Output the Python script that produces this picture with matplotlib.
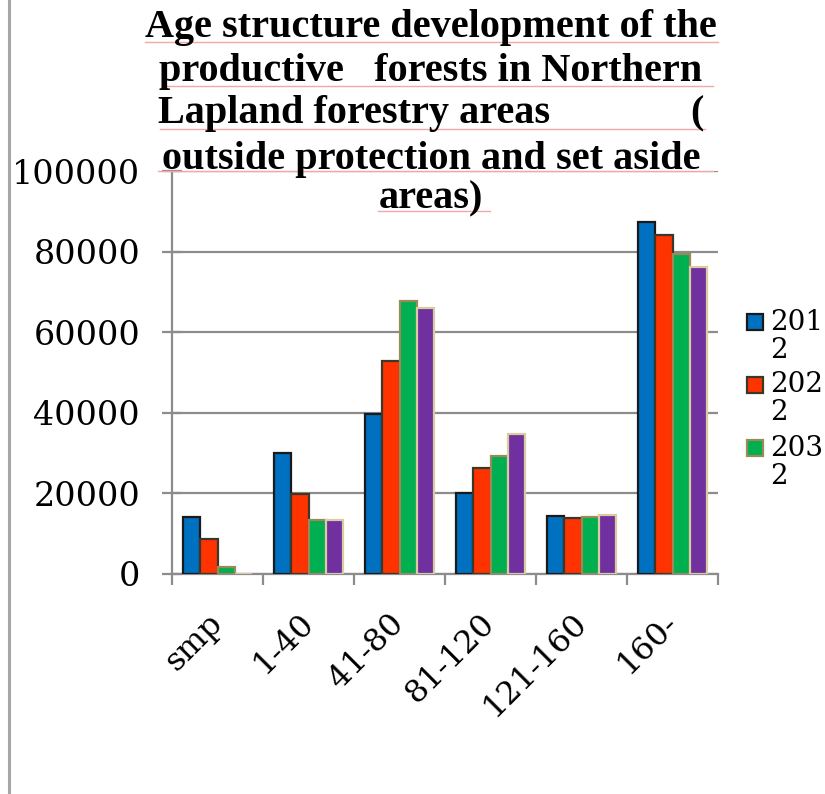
import matplotlib
matplotlib.use("Agg")
import matplotlib.pyplot as plt
import numpy as np
from matplotlib.patches import Rectangle
from matplotlib.lines import Line2D

categories = ["smp", "1-40", "41-80", "81-120", "121-160", "160-"]
series_names = ["2012", "2022", "2032", "2042"]
v2012 = [14200, 30000, 39600, 20200, 14400, 87300]
v2022 = [8700, 19900, 52800, 26400, 13800, 84200]
v2032 = [1800, 13300, 67800, 29300, 14200, 79400]
v2042 = [100, 13500, 66000, 34800, 14600, 76300]
values = [v2012, v2022, v2032, v2042]
yticks = [0, 20000, 40000, 60000, 80000, 100000]
title_lines = ["Age structure development of the",
               "productive   forests in Northern",
               "Lapland forestry areas",
               "outside protection and set aside",
               "areas)"]

colors = ["#0070C0", "#FF3300", "#00B050", "#7030A0"]
edges = ["#1a1a1a", "#3a3828", "#9a8a5a", "#d8cca0"]

W, H = 825, 794
fig = plt.figure(figsize=(W / 100, H / 100), dpi=100)
ax = fig.add_axes([172 / W, 1 - 574 / H, (718 - 172) / W, (574 - 171) / H])

serif = "DejaVu Serif"
x = np.arange(len(categories))
bw = 0.1875
for i, (vals, c, e) in enumerate(zip(values, colors, edges)):
    ax.bar(x + (i - 1.5) * bw, vals, width=bw, color=c, edgecolor=e, linewidth=1.6, zorder=3)

ax.set_xlim(-0.5, len(categories) - 0.5)
ax.set_ylim(0, 100000)
ax.set_yticks(yticks)
ax.set_yticklabels([str(t) for t in yticks], fontsize=24, family=serif)
ax.yaxis.grid(True, color="#8c8c8c", linewidth=1.6, zorder=0)
ax.set_axisbelow(True)
ax.set_xticks(np.arange(-0.5, len(categories), 1.0))
ax.set_xticklabels([])
ax.set_xticks(x, minor=True)
ax.set_xticklabels(categories, minor=True, rotation=45, ha="right", va="center",
                   rotation_mode="anchor", fontsize=23, family=serif)
ax.tick_params(axis="x", which="minor", length=0, pad=32)
ax.tick_params(axis="x", which="major", length=8, width=1.6, color="#8c8c8c", direction="out")
ax.tick_params(axis="y", length=14, width=1.6, color="#8c8c8c", direction="inout", pad=16)
for s in ["top", "right"]:
    ax.spines[s].set_visible(False)
for s in ["left", "bottom"]:
    ax.spines[s].set_color("#8c8c8c")
    ax.spines[s].set_linewidth(1.6)

# title
tfont = dict(family="Liberation Serif", fontweight="bold", fontsize=29)
ys = [27, 71, 114, 159, 199]
xc = 431
for k, (line, yy) in enumerate(zip(title_lines, ys)):
    if k == 2:
        fig.text(158 / W, 1 - yy / H, line, ha="left", va="center", **tfont)
        fig.text(697 / W, 1 - yy / H, "(", ha="center", va="center", **tfont)
    else:
        fig.text(xc / W, 1 - yy / H, line, ha="center", va="center", **tfont)

# spell-check style underlines
ul = [(145, 718, 42), (163, 713, 86), (160, 705, 129), (158, 713, 171), (378, 490, 211)]
for x0, x1, yy in ul:
    fig.add_artist(Line2D([x0 / W, x1 / W], [1 - yy / H, 1 - yy / H], color="#f2a8a8", linewidth=1.0))

# left border line
fig.add_artist(Line2D([9 / W, 9 / W], [0, 1], color="#a6a6a6", linewidth=2.2))

# legend (first three series visible, labels wrapped)
for i in range(3):
    name = series_names[i]
    ytop = 322 + 63 * i
    fig.add_artist(Rectangle((747 / W, 1 - (ytop + 8) / H), 16 / W, 16 / H,
                             transform=fig.transFigure, facecolor=colors[i],
                             edgecolor=edges[i], linewidth=1.6))
    fig.text(770 / W, 1 - ytop / H, name[:3], ha="left", va="center", family=serif, fontsize=20)
    fig.text(770 / W, 1 - (ytop + 28) / H, name[3:], ha="left", va="center", family=serif, fontsize=20)

fig.savefig("out.png", dpi=100)
